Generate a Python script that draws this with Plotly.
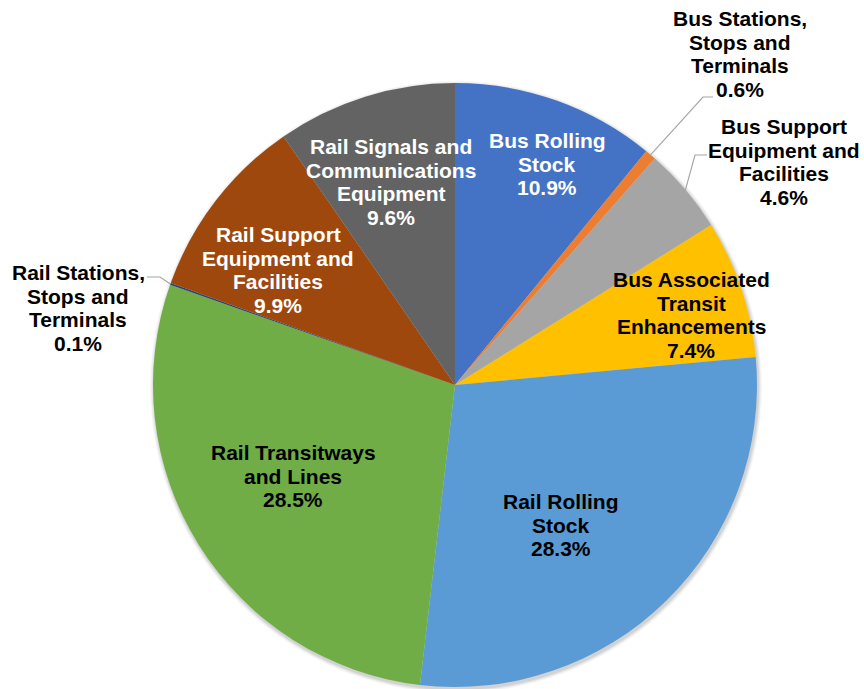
import math
import plotly.graph_objects as go

# Capital spending shares by asset category (percent)
categories = [
    "Bus Rolling Stock",
    "Bus Stations, Stops and Terminals",
    "Bus Support Equipment and Facilities",
    "Bus Associated Transit Enhancements",
    "Rail Rolling Stock",
    "Rail Transitways and Lines",
    "Rail Stations, Stops and Terminals",
    "Rail Support Equipment and Facilities",
    "Rail Signals and Communications Equipment",
]
shares = [10.9, 0.6, 4.6, 7.4, 28.3, 28.5, 0.1, 9.9, 9.6]
label_lines = [
    ["Bus Rolling", "Stock"],
    ["Bus Stations,", "Stops and", "Terminals"],
    ["Bus Support", "Equipment and", "Facilities"],
    ["Bus Associated", "Transit", "Enhancements"],
    ["Rail Rolling", "Stock"],
    ["Rail Transitways", "and Lines"],
    ["Rail Stations,", "Stops and", "Terminals"],
    ["Rail Support", "Equipment and", "Facilities"],
    ["Rail Signals and", "Communications", "Equipment"],
]

colors = ["#4472C4", "#ED7D31", "#A5A5A5", "#FFC000", "#5B9BD5",
          "#70AD47", "#264478", "#9E480E", "#636363"]
text_colors = ["white", "black", "black", "black", "black",
               "black", "black", "white", "white"]

W, H = 864, 689
CX, CY, R = 455, 385, 302  # pie centre and radius in pixels
FONT_SIZE = 21
LINE_GAP = 23.5

# label centres (pixels) and leader-line bends for the outside labels
label_pos = [(547, 164), (740, 54), (784, 162), (691, 315), (561, 525),
             (293, 476), (78, 308), (278, 270), (391, 182)]
leaders = {1: [(703, 97), (713, 97)],
           2: [(695, 155), (707, 155)],
           6: [(160, 277), (147, 277)]}


def px(x, y):
    return x / W, 1 - y / H


fig = go.Figure()
fig.add_trace(go.Pie(
    labels=categories,
    values=shares,
    sort=False,
    direction="clockwise",
    rotation=0,
    marker=dict(colors=colors, line=dict(width=0)),
    textinfo="none",
    hoverinfo="label+percent",
    showlegend=False,
    domain=dict(x=[(CX - R) / W, (CX + R) / W],
                y=[(H - CY - R) / H, (H - CY + R) / H]),
))

# soft drop shadow around the pie
shapes = []
for k, alpha in [(4, 0.03), (3, 0.04), (2, 0.05), (1, 0.06)]:
    x0, y0 = px(CX - R - k + 1, CY - R - k + 2)
    x1, y1 = px(CX + R + k + 1, CY + R + k + 2)
    shapes.append(dict(type="circle", xref="paper", yref="paper",
                       x0=x0, y0=y1, x1=x1, y1=y0, layer="below",
                       line=dict(width=0),
                       fillcolor=f"rgba(0,0,0,{alpha})"))

total = sum(shares)
cum = 0.0
annotations = []
for i, (cat, v) in enumerate(zip(categories, shares)):
    mid = (cum + v / 2) / total * 2 * math.pi
    cum += v
    lines = label_lines[i] + [f"{v:.1f}%"]
    n = len(lines)
    cx, cy = label_pos[i]
    for k, line in enumerate(lines):
        lx, ly = px(cx, cy + (k - (n - 1) / 2) * LINE_GAP)
        annotations.append(dict(
            x=lx, y=ly, xref="paper", yref="paper", text=line,
            showarrow=False, xanchor="center", yanchor="middle",
            align="center",
            font=dict(family="Liberation Sans, Arial", size=FONT_SIZE,
                      weight="bold", color=text_colors[i]),
        ))
    if i in leaders:
        ex = CX + R * math.sin(mid)
        ey = CY - R * math.cos(mid)
        pts = [(ex, ey)] + leaders[i]
        path = "M " + " L ".join(
            f"{px(a, b)[0]:.5f},{px(a, b)[1]:.5f}" for a, b in pts)
        shapes.append(dict(type="path", path=path, xref="paper", yref="paper",
                           line=dict(color="#A6A6A6", width=1.2)))

fig.update_layout(
    width=W, height=H,
    margin=dict(l=0, r=0, t=0, b=0),
    paper_bgcolor="white",
    plot_bgcolor="white",
    annotations=annotations,
    shapes=shapes,
)

fig.write_html("out.html")
